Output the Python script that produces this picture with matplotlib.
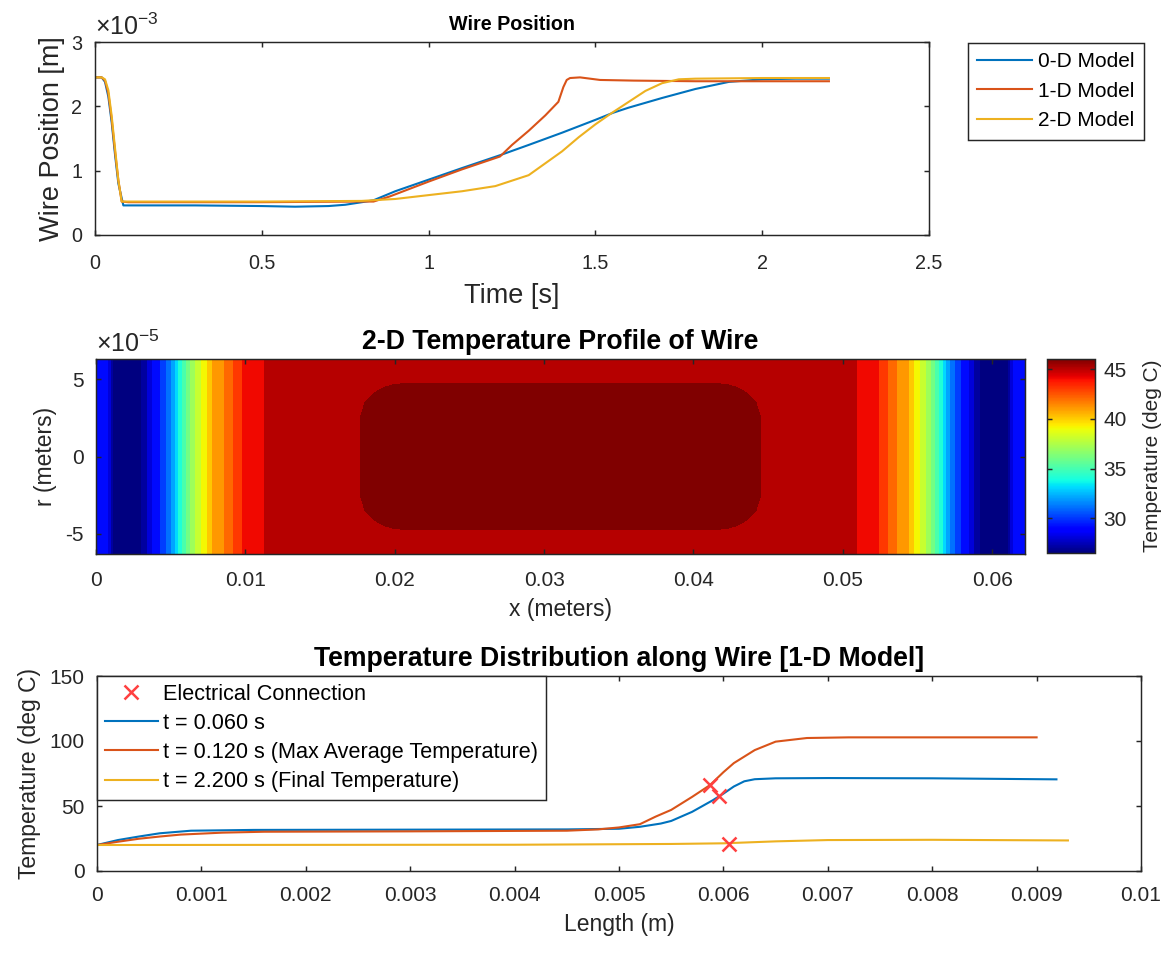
import matplotlib.pyplot as plt
import matplotlib as mpl
import numpy as np

plt.rcParams['font.family'] = ['Liberation Sans', 'DejaVu Sans']
plt.rcParams['mathtext.fontset'] = 'custom'
plt.rcParams['mathtext.rm'] = 'Liberation Sans'
plt.rcParams['font.size'] = 10
plt.rcParams['axes.linewidth'] = 0.7
plt.rcParams['axes.edgecolor'] = (0.15, 0.15, 0.15)
plt.rcParams['xtick.direction'] = 'in'
plt.rcParams['ytick.direction'] = 'in'
plt.rcParams['xtick.top'] = True
plt.rcParams['ytick.right'] = True
plt.rcParams['xtick.color'] = (0.15, 0.15, 0.15)
plt.rcParams['ytick.color'] = (0.15, 0.15, 0.15)
plt.rcParams['xtick.major.size'] = 2.5
plt.rcParams['ytick.major.size'] = 2.5
plt.rcParams['xtick.major.width'] = 0.7
plt.rcParams['ytick.major.width'] = 0.7
plt.rcParams['ytick.major.pad'] = 6
plt.rcParams['axes.labelcolor'] = (0.15, 0.15, 0.15)

GREY = (0.15, 0.15, 0.15)
C_BLUE = (0.0, 0.447, 0.741)
C_RED = (0.85, 0.325, 0.098)
C_YELLOW = (0.929, 0.694, 0.125)

# ---- wire position vs time (values in units of 1e-3 m) ----
t_0d = [0, 0.02, 0.03, 0.04, 0.05, 0.06, 0.07, 0.085, 0.1, 0.3, 0.5, 0.6, 0.7,
        0.75, 0.8, 0.835, 0.9, 1.0, 1.1, 1.214, 1.3, 1.4, 1.5, 1.553, 1.6,
        1.7, 1.8, 1.9, 2.0, 2.1, 2.2]
pos_0d = [2.45, 2.45, 2.38, 2.15, 1.75, 1.25, 0.8, 0.46, 0.46, 0.46, 0.45,
          0.44, 0.45, 0.47, 0.51, 0.54, 0.68, 0.86, 1.04, 1.24, 1.40, 1.59,
          1.79, 1.90, 1.98, 2.13, 2.27, 2.38, 2.42, 2.43, 2.43]

t_1d = [0, 0.02, 0.03, 0.04, 0.05, 0.06, 0.07, 0.08, 0.1, 0.5, 0.8, 0.835,
        0.884, 1.0, 1.1, 1.214, 1.25, 1.3, 1.35, 1.389, 1.404, 1.414, 1.424,
        1.454, 1.514, 1.614, 1.8, 2.0, 2.2]
pos_1d = [2.45, 2.45, 2.40, 2.20, 1.80, 1.30, 0.85, 0.52, 0.51, 0.51, 0.52,
          0.52, 0.60, 0.83, 1.02, 1.22, 1.40, 1.62, 1.86, 2.07, 2.30, 2.41,
          2.44, 2.45, 2.41, 2.40, 2.39, 2.39, 2.39]

t_2d = [0, 0.02, 0.03, 0.04, 0.05, 0.06, 0.07, 0.08, 0.1, 0.5, 0.8, 0.9,
        1.0, 1.1, 1.2, 1.3, 1.4, 1.45, 1.5, 1.55, 1.6, 1.65, 1.7, 1.75, 1.8,
        2.0, 2.2]
pos_2d = [2.45, 2.45, 2.42, 2.25, 1.85, 1.35, 0.85, 0.52, 0.52, 0.52, 0.53,
          0.56, 0.62, 0.68, 0.76, 0.93, 1.30, 1.52, 1.72, 1.90, 2.07, 2.24,
          2.36, 2.42, 2.43, 2.44, 2.44]

# ---- 2-D temperature field (half wire, mirrored about the midpoint) ----
wire_len = 0.0622
x_half = [0, 0.0008, 0.0012, 0.0029, 0.0033, 0.0038, 0.0045, 0.0050, 0.0055,
          0.0060, 0.0065, 0.0070, 0.0075, 0.0078, 0.0086, 0.0092, 0.0098,
          0.0113, 0.0140, 0.0177, 0.0180, 0.0186, 0.0194, 0.0199, 0.0207,
          0.0311]
temp_axis_half = [29.4, 28.8, 26.2, 26.2, 27.3, 28.7, 30.0, 31.5, 33.6, 35.6,
                  37.3, 38.5, 39.8, 40.6, 41.6, 42.6, 43.6, 44.6, 45.2, 45.6,
                  45.62, 45.67, 45.77, 45.93, 46.1, 46.1]
temp_surf_half = [29.4, 28.8, 26.2, 26.2, 27.3, 28.7, 30.0, 31.5, 33.6, 35.6,
                  37.3, 38.5, 39.8, 40.6, 41.6, 42.6, 43.6, 44.6, 45.2, 45.2,
                  45.2, 45.2, 45.2, 45.2, 45.2, 45.2]
r_nodes = [-6.3e-5, -5.1e-5, -4.5e-5, -4.1e-5, -3.5e-5, -2.5e-5, 0,
           2.5e-5, 3.5e-5, 4.1e-5, 4.5e-5, 5.1e-5, 6.3e-5]
r_weight = [0, 0, 0.7, 0.85, 0.95, 1, 1, 1, 0.95, 0.85, 0.7, 0, 0]

# ---- 1-D model temperature along the wire ----
len_060 = [0, 0.0002, 0.0004, 0.0006, 0.0009, 0.0015, 0.003, 0.0045, 0.005,
           0.0052, 0.0054, 0.0055, 0.0056, 0.0057, 0.0058, 0.0059, 0.006,
           0.0061, 0.0062, 0.0063, 0.0065, 0.007, 0.008, 0.00919]
temp_060 = [20, 23.8, 26.5, 29, 31, 31.6, 31.8, 32, 32.5, 34, 36.5, 38.5, 42,
            45.5, 50, 54.5, 59.5, 65, 69, 70.6, 71.3, 71.5, 71.3, 70.5]

len_120 = [0, 0.0002, 0.0004, 0.0006, 0.0008, 0.0012, 0.0016, 0.003, 0.0045,
           0.0048, 0.005, 0.0052, 0.00535, 0.0055, 0.0057, 0.00587, 0.006,
           0.0061, 0.0063, 0.0065, 0.0068, 0.0072, 0.009]
temp_120 = [20, 22.5, 24.8, 26.5, 28, 29.5, 30.2, 30.5, 31, 32, 33.5, 36,
            41.8, 47, 57, 66, 76, 83, 93, 99.5, 102.3, 102.8, 102.8]

len_2200 = [0, 0.004, 0.0055, 0.006, 0.0065, 0.007, 0.008, 0.0093]
temp_2200 = [20, 20.2, 20.8, 21.3, 22.8, 23.8, 24, 23.5]

conn_len = [0.00587, 0.00596, 0.00605]
conn_temp = [66, 57.5, 21]

fig = plt.figure(figsize=(1171 / 150, 953 / 150), dpi=150)
W, H = 1171.0, 953.0


def place(left, top, right, bottom):
    return [left / W, 1 - bottom / H, (right - left) / W, (bottom - top) / H]


# ---------------- top: wire position ----------------
ax1 = fig.add_axes(place(95, 42, 929, 235))
ax1.plot(t_0d, pos_0d, color=C_BLUE, lw=1.0, label='0-D Model')
ax1.plot(t_1d, pos_1d, color=C_RED, lw=1.0, label='1-D Model')
ax1.plot(t_2d, pos_2d, color=C_YELLOW, lw=1.0, label='2-D Model')
ax1.set_xlim(0, 2.5)
ax1.set_ylim(0, 3)
ax1.set_xticks([0, 0.5, 1, 1.5, 2, 2.5])
ax1.set_xticklabels(['0', '0.5', '1', '1.5', '2', '2.5'])
ax1.set_yticks([0, 1, 2, 3])
ax1.tick_params(labelsize=9.5)
ax1.tick_params(axis='x', pad=9)
ax1.set_title('Wire Position', fontweight='bold', fontsize=9.5, pad=6)
ax1.set_xlabel('Time [s]', fontsize=13, labelpad=5)
ax1.set_ylabel('Wire Position [m]', fontsize=13, labelpad=3)
ax1.text(0, 1.01, r'$\times\mathregular{10^{-3}}$', transform=ax1.transAxes,
         ha='left', va='bottom', fontsize=12, color=GREY)
leg1 = ax1.legend(loc='upper left', bbox_to_anchor=(968 / W, 1 - 43 / H),
                  bbox_transform=fig.transFigure, borderaxespad=0,
                  fontsize=10, handlelength=2.6, handletextpad=0.3,
                  borderpad=0.45, fancybox=False, edgecolor=GREY,
                  framealpha=1)
leg1.get_frame().set_linewidth(0.7)

# ---------------- middle: 2-D temperature profile ----------------
ax2 = fig.add_axes(place(96, 359, 1025, 554))
x_half_arr = np.array(x_half)
x_nodes = np.concatenate([x_half_arr, wire_len - x_half_arr[::-1][1:]])
t_axis = np.concatenate([temp_axis_half, temp_axis_half[::-1][1:]])
t_surf = np.concatenate([temp_surf_half, temp_surf_half[::-1][1:]])
weight = np.array(r_weight)[:, None]
temp_grid = t_surf[None, :] + (t_axis - t_surf)[None, :] * weight

t_min, t_max = 26.5, 46.04
norm = mpl.colors.Normalize(vmin=t_min, vmax=t_max)
levels = np.arange(25.6, 47.0, 1.0)
ax2.contourf(x_nodes, r_nodes, temp_grid, levels=levels, cmap='jet', norm=norm)
ax2.set_xlim(0, wire_len)
ax2.set_ylim(-6.3e-5, 6.3e-5)
ax2.set_xticks([0, 0.01, 0.02, 0.03, 0.04, 0.05, 0.06])
ax2.set_xticklabels(['0', '0.01', '0.02', '0.03', '0.04', '0.05', '0.06'])
ax2.set_yticks([-5e-5, 0, 5e-5])
ax2.set_yticklabels(['-5', '0', '5'])
ax2.tick_params(labelsize=10)
ax2.tick_params(axis='x', pad=8)
ax2.set_title('2-D Temperature Profile of Wire', fontweight='bold',
              fontsize=12.8, pad=5)
ax2.set_xlabel('x (meters)', fontsize=11)
ax2.set_ylabel('r (meters)', fontsize=11)
ax2.text(0, 1.01, r'$\times\mathregular{10^{-5}}$', transform=ax2.transAxes,
         ha='left', va='bottom', fontsize=12, color=GREY)

cax = fig.add_axes(place(1047, 359, 1095, 553))
cb = fig.colorbar(mpl.cm.ScalarMappable(norm=norm, cmap='jet'), cax=cax)
cb.set_ticks([30, 35, 40, 45])
cb.ax.tick_params(labelsize=10, direction='in', length=2.5, left=True, pad=4)
cb.outline.set_linewidth(0.7)
cb.set_label('Temperature (deg C)', fontsize=10, color=GREY, labelpad=8)

# ---------------- bottom: 1-D temperature distribution ----------------
ax3 = fig.add_axes(place(97, 676, 1141, 871))
conn, = ax3.plot(conn_len, conn_temp, 'x', color=(1.0, 0.25, 0.25),
                 markersize=7, mew=1.2, zorder=5)
l060, = ax3.plot(len_060, temp_060, color=C_BLUE, lw=1.0)
l120, = ax3.plot(len_120, temp_120, color=C_RED, lw=1.0)
l2200, = ax3.plot(len_2200, temp_2200, color=C_YELLOW, lw=1.0)
ax3.set_xlim(0, 0.01)
ax3.set_ylim(0, 150)
ax3.set_xticks(np.arange(0, 0.0101, 0.001))
ax3.set_xticklabels(['0', '0.001', '0.002', '0.003', '0.004', '0.005',
                     '0.006', '0.007', '0.008', '0.009', '0.01'])
ax3.set_yticks([0, 50, 100, 150])
ax3.tick_params(labelsize=10)
ax3.tick_params(axis='x', pad=7)
ax3.set_title('Temperature Distribution along Wire [1-D Model]',
              fontweight='bold', fontsize=12.8, pad=5)
ax3.set_xlabel('Length (m)', fontsize=11)
ax3.set_ylabel('Temperature (deg C)', fontsize=11)
leg3 = ax3.legend([conn, l060, l120, l2200],
                  ['Electrical Connection', 't = 0.060 s',
                   't = 0.120 s (Max Average Temperature)',
                   't = 2.200 s (Final Temperature)'],
                  loc='upper left', borderaxespad=0, fontsize=10.4,
                  handlelength=2.45, handletextpad=0.25, labelspacing=0.38,
                  borderpad=0.35, fancybox=False, edgecolor=GREY,
                  framealpha=1)
leg3.get_frame().set_linewidth(0.7)

fig.savefig('out.png', dpi=150)
